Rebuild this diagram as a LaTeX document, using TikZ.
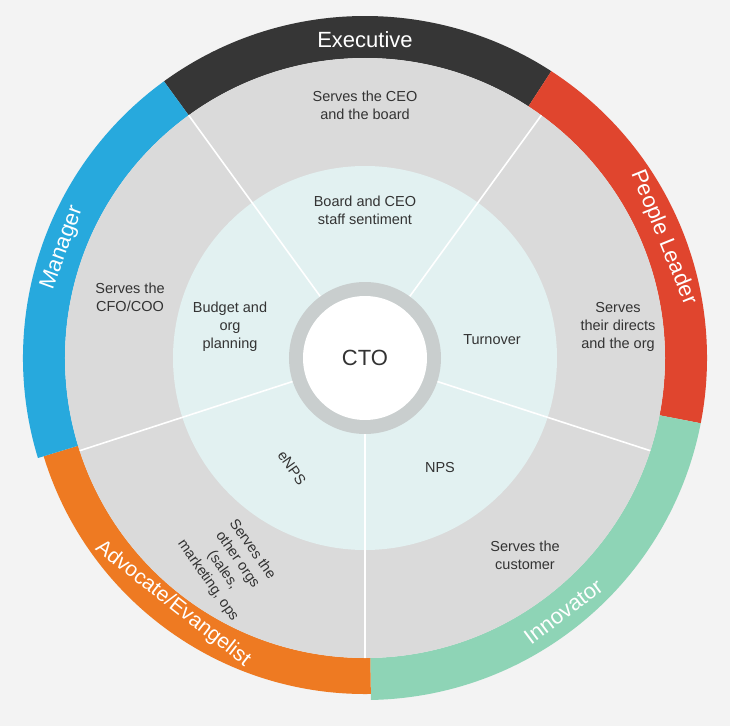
\documentclass[tikz,border=0pt]{standalone}
\usepackage{fontspec}
\setmainfont{Liberation Sans}
\definecolor{bgc}{HTML}{F3F3F3}
\definecolor{ringc}{HTML}{DADADA}
\definecolor{innerc}{HTML}{E2F1F1}
\definecolor{hubc}{HTML}{C9CECE}
\definecolor{execc}{HTML}{363636}
\definecolor{peoplec}{HTML}{E0452E}
\definecolor{managerc}{HTML}{27A9DD}
\definecolor{advc}{HTML}{EE7A22}
\definecolor{innovc}{HTML}{8ED4B6}
\begin{document}
\begin{tikzpicture}[x=1pt,y=1pt,
  band/.style={fill=#1,draw=none},
  role/.style={text=white,font=\fontsize{22}{24}\selectfont},
  seg/.style={font=\fontsize{14.5}{18}\selectfont,text=black!80,align=center},
  divider/.style={draw=white,line width=1.6pt}]
\fill[bgc] (-365,-368) rectangle (365,358);
\useasboundingbox (-365,-368) rectangle (365,358);
% colored bands
\fill[band=execc] (126:342) arc (126:57:342) -- (57:300) arc (57:126:300) -- cycle;
\fill[band=peoplec] (57:342) arc (57:-11:342) -- (-11:300) arc (-11:57:300) -- cycle;
\fill[band=innovc] (-11:342) arc (-11:-89:342) -- (-89:300) arc (-89:-11:300) -- cycle;
\fill[band=advc] (-89:336) arc (-89:-163:336) -- (-163:300) arc (-163:-89:300) -- cycle;
\fill[band=managerc] (-163:342) arc (-163:-234:342) -- (-234:300) arc (-234:-163:300) -- cycle;
% grey ring and inner disc
\fill[ringc] (0,0) circle (300);
\fill[innerc] (0,0) circle (192);
\foreach \a in {54,126,198,270,342} \draw[divider] (0,0) -- (\a:300);
\fill[hubc] (0,0) circle (76);
\node[circle,fill=white,minimum size=124pt,inner sep=0pt,font=\fontsize{22}{24}\selectfont,text=black!80] (cto) at (0,0) {CTO};
% role labels
\node[role] (exec) at (0,318) {Executive};
\node[role,rotate=-68] (people) at (22:322) {People Leader};
\node[role,rotate=70] (manager) at (160:322) {Manager};
\node[role,rotate=-38,font=\fontsize{21}{24}\selectfont] (adv) at (-128:312) {Advocate/Evangelist};
\node[role,rotate=37] (innov) at (-52:322) {Innovator};
% outer segment texts
\node[seg] (s1) at (0,253) {Serves the CEO\\and the board};
\node[seg] (s2) at (-235,61) {Serves the\\CFO/COO};
\node[seg] (s3) at (253,31) {Serves\\their directs\\and the org};
\node[seg] (s4) at (160,-197) {Serves the\\customer};
\node[seg,rotate=-55] (s5) at (-135,-207) {Serves the\\other orgs\\(sales,\\marketing, ops};
% inner segment texts
\node[seg] (i1) at (0,148) {Board and CEO\\staff sentiment};
\node[seg] (i2) at (-135,31) {Budget and\\org\\planning};
\node[seg] (i3) at (127,18) {Turnover};
\node[seg] (i4) at (75,-110) {NPS};
\node[seg,rotate=-55] (i5) at (-73,-110) {eNPS};
\end{tikzpicture}
\end{document}
